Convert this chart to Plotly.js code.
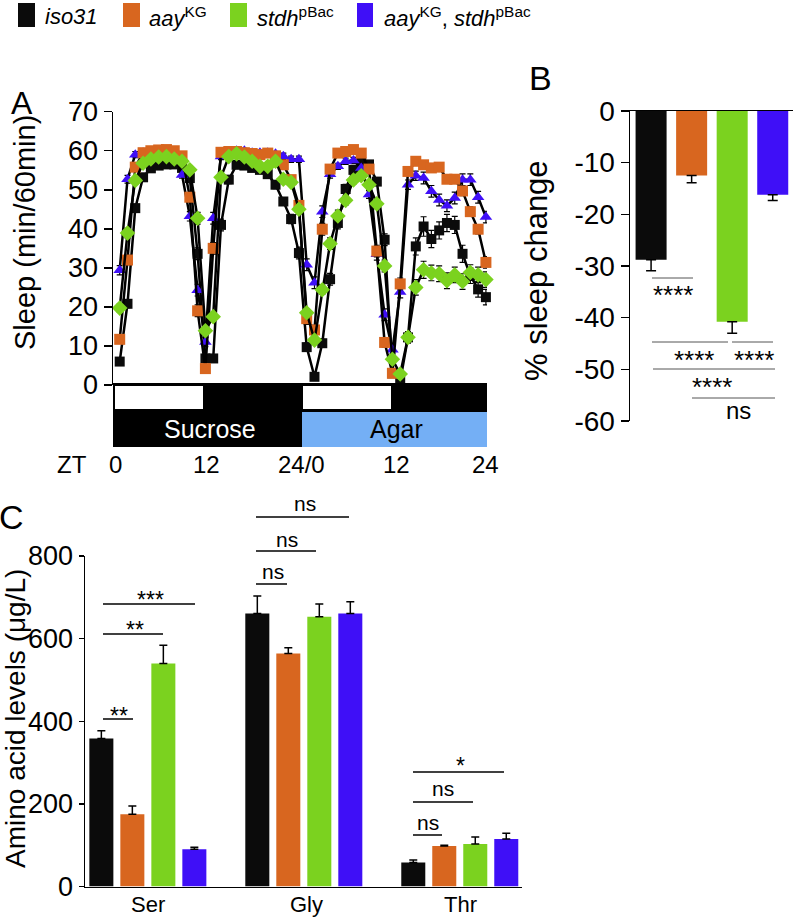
<!DOCTYPE html>
<html>
<head>
<meta charset="utf-8">
<script src="https://cdn.plot.ly/plotly-3.0.1.min.js"></script>
<style>html,body{margin:0;padding:0;background:#fff}#chart{width:793px;height:920px}</style>
</head>
<body>
<div id="chart"></div>
<script>
// ---------- DATA ----------
const genotypes = ['iso31', 'aayKG', 'stdhpBac', 'aayKG, stdhpBac'];
const colors = ['#0b0b0b', '#d8661f', '#7bd21f', '#3f0ff7'];

// Panel A: hourly sleep (min/60min), 48 h (24 h sucrose + 24 h agar)
const hours = [1,2,3,4,5,6,7,8,9,10,11,12,13,14,15,16,17,18,19,20,21,22,23,24,
               25,26,27,28,29,30,31,32,33,34,35,36,37,38,39,40,41,42,43,44,45,46,47,48];
const sleepIso = [6.0,20.8,45.3,53.2,55.5,56.2,56.5,56.5,55.6,53.0,33.6,6.8,
                  6.8,41.0,52.6,56.4,56.2,55.6,55.1,54.0,51.3,47.0,42.5,33.8,
                  9.7,2.1,10.7,27.1,41.5,50.2,55.1,57.0,56.5,52.1,37.2,3.0,
                  1.0,12.2,35.5,40.6,37.4,39.6,41.5,41.0,33.6,28.0,24.5,22.5];
const sleepAay = [11.7,32.0,55.8,59.5,60.0,60.2,60.3,60.0,58.7,48.1,19.0,4.2,
                  35.0,59.6,59.8,59.8,59.5,59.3,59.0,59.4,58.7,56.4,52.6,46.0,
                  17.0,14.1,39.9,55.3,59.4,59.8,60.3,59.4,55.3,34.3,10.9,3.0,
                  25.9,54.7,57.3,56.4,55.6,55.8,52.7,52.7,49.7,44.4,39.9,31.4];
const sleepStdh = [19.7,38.9,52.4,56.8,57.9,58.4,58.5,57.9,57.3,55.1,42.7,13.9,
                   17.5,53.2,58.5,59.2,58.4,57.3,56.0,56.0,57.3,52.7,51.9,45.0,
                   18.5,11.5,24.4,36.2,43.3,47.3,52.5,53.6,51.3,46.4,30.5,6.6,
                   2.8,12.2,25.0,29.5,28.7,28.5,26.7,28.2,26.5,28.8,28.2,27.0];
const sleepDouble = [29.4,52.7,59.0,59.5,59.5,59.5,59.5,59.2,53.8,43.2,24.3,11.0,
                     42.7,58.5,59.5,60.0,60.0,59.5,59.5,59.5,59.2,58.6,57.8,57.8,
                     30.8,26.2,44.4,54.0,56.0,57.3,57.5,55.6,48.8,33.5,18.0,9.0,
                     23.8,51.3,53.6,53.0,49.6,47.4,45.9,47.9,52.6,52.6,48.1,43.0];
const errIso = [0.8,1,1,0.8,0.8,0.8,0.8,0.8,0.8,1,1.5,1, 1,1.5,1,0.8,0.8,0.8,0.8,1,1,1,1.2,1.5,
                1,0.5,1,1.5,1.5,1.2,1,0.8,0.8,1,1.5,0.8, 0.5,1.5,2.2,2.5,2.2,2.2,2.2,2.2,2.2,2,2,2];
const errAay = [1,1.2,1,0.6,0.6,0.6,0.6,0.6,0.8,1.2,1.5,0.8, 1.5,0.6,0.6,0.6,0.6,0.6,0.6,0.6,0.6,0.8,1,1.2,
                1.5,1.2,1.5,1,0.6,0.6,0.6,0.6,1,1.5,1.2,0.8, 1.5,1,1,1,1,1,1,1,1.2,1.2,1.2,1.5];
const errStdh = [1,1.2,1,0.8,0.8,0.8,0.8,0.8,0.8,1,1.5,1, 1,1,0.8,0.8,0.8,0.8,0.8,0.8,0.8,1,1,1.2,
                 1,1,1.2,1.5,1.5,1.2,1,0.8,1,1.2,1.5,1, 0.8,1.2,2,2.2,2,2,2,2,2,2,2,2];
const errDouble = [1.2,1,0.8,0.6,0.6,0.6,0.6,0.6,0.8,1.2,1.5,1.2, 1.5,0.8,0.6,0.6,0.6,0.6,0.6,0.6,0.6,0.8,0.8,0.8,
                   1.5,1.5,1.5,1,0.8,0.8,0.8,0.8,1,1.5,1.5,1, 1.5,1.2,1.2,1.5,1.5,1.5,1.5,1.5,1.5,1.5,1.5,1.5];
const aTickVals = [0,10,20,30,40,50,60,70];
const ztLabels = ['ZT','0','12','24/0','12','24'];

// Panel B: % sleep change
const bIdx = [0,1,2,3];
const sleepChange = [-28.8,-12.5,-40.8,-16.2];
const sleepChangeErr = [2.1,1.4,2.2,1.1];
const bTickVals = [-60,-50,-40,-30,-20,-10,0];
const bTickText = ['-60','-50','-40','-30','-20','-10','0'];

// Panel C: amino acid levels (µg/L)
const aminoAcids = ['Ser','Gly','Thr'];
const aaIso = [358,661,58];       const aaIsoErr = [19,42,6];
const aaAay = [175,564,98];       const aaAayErr = [20,14,2];
const aaStdh = [540,653,103];     const aaStdhErr = [44,31,17];
const aaDouble = [90,661,115];    const aaDoubleErr = [5,28,14];

// ---------- LAYOUT HELPERS ----------
const W = 793, H = 920;
const px = X => X / W;
const py = Y => 1 - Y / H;
const FONT = 'Liberation Sans, Arial, Helvetica, sans-serif';

const traces = [];
// Panel A
const aSeries = [
  {y: sleepIso, e: errIso, c: colors[0], sym: 'square', size: 10},
  {y: sleepDouble, e: errDouble, c: colors[3], sym: 'triangle-up', size: 11},
  {y: sleepAay, e: errAay, c: colors[1], sym: 'square', size: 11},
  {y: sleepStdh, e: errStdh, c: colors[2], sym: 'diamond', size: 12}
];
aSeries.forEach(s => traces.push({
  type: 'scatter', mode: 'lines+markers', x: hours, y: s.y, xaxis: 'x', yaxis: 'y',
  line: {color: '#000', width: 2.5},
  marker: {symbol: s.sym, color: s.c, size: s.size, line: {width: 0}},
  error_y: {type: 'data', array: s.e, visible: true, color: '#000', thickness: 1.2, width: 3},
  cliponaxis: false, showlegend: false, hoverinfo: 'skip'
}));
// Panel B
traces.push({
  type: 'bar', x: bIdx, y: sleepChange, xaxis: 'x2', yaxis: 'y2', width: 0.765,
  marker: {color: colors, line: {width: 0}},
  error_y: {type: 'data', symmetric: false, array: [0,0,0,0], arrayminus: sleepChangeErr,
            color: '#000', thickness: 1.5, width: 5},
  showlegend: false, hoverinfo: 'skip'
});
// Panel C
[[aaIso, aaIsoErr], [aaAay, aaAayErr], [aaStdh, aaStdhErr], [aaDouble, aaDoubleErr]].forEach((d, i) => traces.push({
  type: 'bar', x: aminoAcids, y: d[0], xaxis: 'x3', yaxis: 'y3', name: genotypes[i],
  marker: {color: colors[i], line: {width: 0}},
  error_y: {type: 'data', symmetric: false, array: d[1], arrayminus: [0,0,0],
            color: '#000', thickness: 1.5, width: 4},
  showlegend: false, hoverinfo: 'skip'
}));

// ---------- SHAPES ----------
const shapes = [];
const rect = (x0, y0, x1, y1, fill, lw, lc) => shapes.push({type: 'rect', xref: 'paper', yref: 'paper',
  x0: px(x0), x1: px(x1), y0: py(y1), y1: py(y0), fillcolor: fill, line: {width: lw || 0, color: lc || '#000'}, layer: 'above'});
const seg = (x0, x1, y, color, w) => shapes.push({type: 'line', xref: 'paper', yref: 'paper',
  x0: px(x0), x1: px(x1), y0: py(y), y1: py(y), line: {color: color, width: w}});

// light/dark + food ribbon (panel A)
rect(113, 383, 302, 447, '#000');
rect(115, 386, 203, 409, '#fff');
rect(302, 412, 487, 447, '#74aff5');
rect(391, 383, 487, 412, '#000');
rect(302, 383, 391, 412, '#000');
rect(303, 386, 391, 409, '#fff');

// legend swatches
[[18, 35], [123, 140], [230, 247], [357, 373]].forEach((p, i) => rect(p[0], 3, p[1], 27, colors[i]));

// significance lines panel B
seg(652, 693, 278, '#555', 1);
seg(652, 728, 342, '#555', 1);
seg(732, 773, 342, '#555', 1);
seg(653, 775, 369, '#555', 1);
seg(692, 775, 398, '#555', 1);
// significance lines panel C
seg(103, 133, 719, '#000', 1.5);
seg(103, 163, 634, '#000', 1.5);
seg(103, 195, 604, '#000', 1.5);
seg(256, 287, 584, '#000', 1.5);
seg(256, 316, 551, '#000', 1.5);
seg(256, 349, 517, '#000', 1.5);
seg(413, 442, 835, '#000', 1.5);
seg(413, 473, 802, '#000', 1.5);
seg(413, 504, 772, '#000', 1.5);

// ---------- ANNOTATIONS ----------
const ann = [];
const txt = (X, Y, text, size, opts) => ann.push(Object.assign({xref: 'paper', yref: 'paper', x: px(X), y: py(Y),
  text: text, showarrow: false, xanchor: 'center', yanchor: 'middle',
  font: {family: FONT, size: size, color: '#000'}}, opts || {}));

// legend labels
const legTexts = ['<i>iso31</i>', '<i>aay</i><sup>KG</sup>', '<i>stdh</i><sup>pBac</sup>',
                  '<i>aay</i><sup>KG</sup>, <i>stdh</i><sup>pBac</sup>'];
[43, 147, 255, 382].forEach((X, i) => txt(X, 17, legTexts[i], 22, {xanchor: 'left'}));

// panel letters
txt(22, 103, 'A', 32);
txt(540, 78, 'B', 34);
txt(11, 517, 'C', 34);

// axis titles
txt(25, 233, 'Sleep (min/60min)', 29, {textangle: -90});
txt(536, 271, '% sleep change', 31, {textangle: -90});
txt(15, 719, 'Amino acid levels (μg/L)', 28, {textangle: -90});

// ribbon texts
txt(210, 429, 'Sucrose', 25, {font: {family: FONT, size: 25, color: '#fff'}});
txt(396, 429, 'Agar', 25);
[72, 115, 207, 301, 396, 486].forEach((X, i) => txt(X, 464, ztLabels[i], 24));

// category labels panel C
[148, 306, 461].forEach((X, i) => txt(X, 904, aminoAcids[i], 22));

// significance texts B
txt(673, 295, '****', 26);
txt(694, 360, '****', 26);
txt(754, 360, '****', 26);
txt(712, 387, '****', 26);
txt(738, 410, 'ns', 24);
// significance texts C
txt(119, 716, '**', 23);
txt(135, 630, '**', 23);
txt(150, 600, '***', 23);
txt(273, 571, 'ns', 21);
txt(287, 539, 'ns', 21);
txt(305, 504, 'ns', 21);
txt(428, 822, 'ns', 21);
txt(443, 788, 'ns', 21);
txt(460, 766, '*', 23);

const layout = {
  width: W, height: H, margin: {l: 0, r: 0, t: 0, b: 0},
  paper_bgcolor: '#fff', plot_bgcolor: 'rgba(0,0,0,0)',
  font: {family: FONT, color: '#000'},
  showlegend: false, barmode: 'group', bargap: 0.205, bargroupgap: 0.225,
  xaxis: {domain: [px(113), px(487)], anchor: 'y', range: [0.14, 48.14], visible: false, fixedrange: true},
  yaxis: {domain: [py(385), py(111.7)], anchor: 'x', range: [0, 70], tickvals: aTickVals,
          showline: true, linecolor: '#000', linewidth: 1.5, ticks: 'outside', ticklen: 8, tickwidth: 1.5, tickcolor: '#000',
          showgrid: false, zeroline: false, tickfont: {family: FONT, size: 27, color: '#000'}, automargin: false},
  xaxis2: {domain: [px(630), 1], anchor: 'y2', side: 'top', range: [-0.52, 3.5], showline: true, linecolor: '#000', linewidth: 1.5,
           ticks: '', showticklabels: false, showgrid: false, zeroline: false, automargin: false},
  yaxis2: {domain: [py(421), py(111)], anchor: 'x2', range: [-60, 0], tickvals: bTickVals, ticktext: bTickText,
           showline: true, linecolor: '#000', linewidth: 1.5, ticks: 'outside', ticklen: 8, tickwidth: 1.5, tickcolor: '#000',
           showgrid: false, zeroline: false, tickfont: {family: FONT, size: 28, color: '#000'}, automargin: false},
  xaxis3: {domain: [px(85), px(522)], anchor: 'y3', range: [-0.403, 2.399], showline: true, linecolor: '#000', linewidth: 1.5,
           ticks: '', showticklabels: false, showgrid: false, zeroline: false, automargin: false},
  yaxis3: {domain: [py(886.5), py(556)], anchor: 'x3', range: [0, 800], dtick: 200,
           showline: true, linecolor: '#000', linewidth: 1.5, ticks: 'outside', ticklen: 5, tickwidth: 1.5, tickcolor: '#000',
           showgrid: false, zeroline: false, tickfont: {family: FONT, size: 27, color: '#000'}, automargin: false},
  shapes: shapes, annotations: ann
};

Plotly.newPlot('chart', traces, layout, {staticPlot: true, displayModeBar: false});
</script>
</body>
</html>
